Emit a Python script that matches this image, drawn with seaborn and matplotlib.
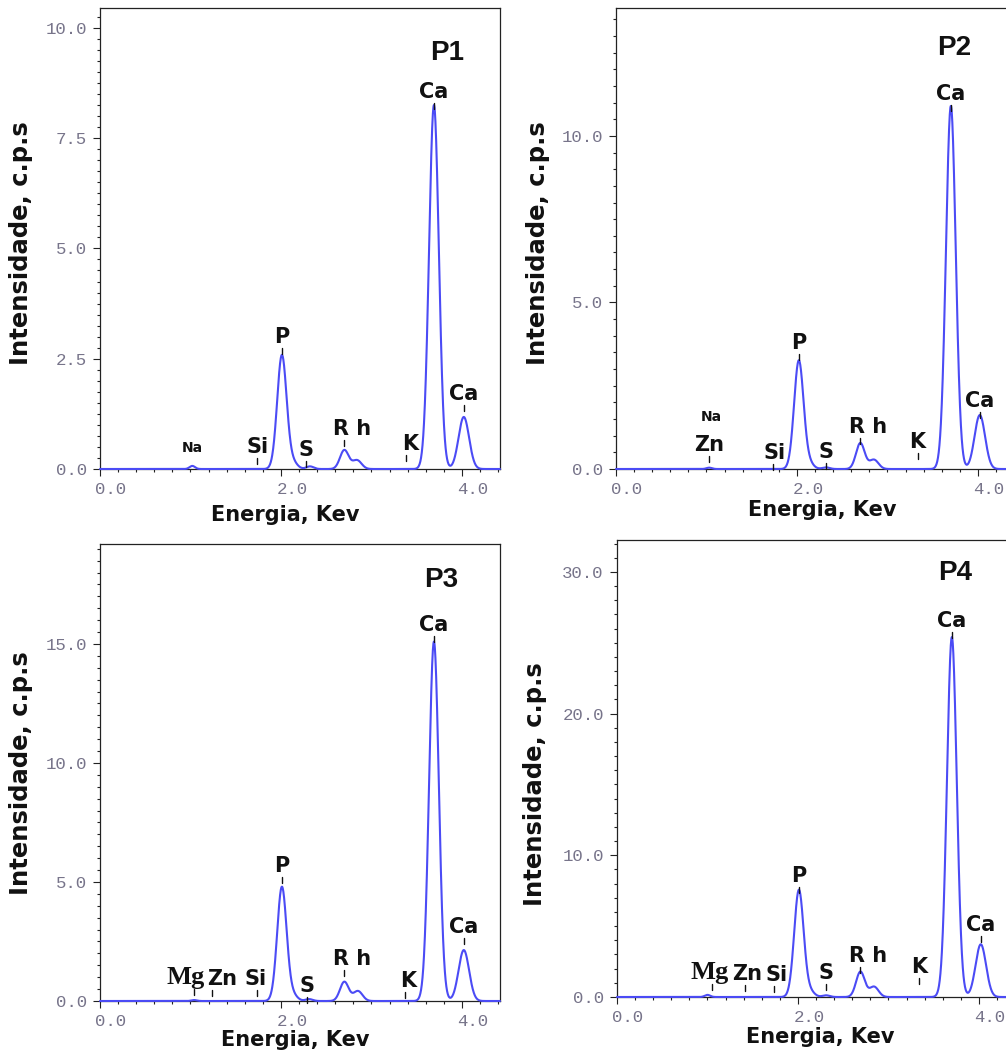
import numpy as np
import pandas as pd
import matplotlib
matplotlib.use("Agg")
import matplotlib.pyplot as plt
import matplotlib.transforms as mtransforms
from matplotlib.lines import Line2D
from matplotlib.ticker import MultipleLocator, AutoMinorLocator, FormatStrFormatter
import seaborn as sns

# ---------------- data ----------------
# peaks: energy (keV), height (c.p.s), sigma (keV)
p1_peak_e = [1.02, 2.01, 2.13, 2.32, 2.70, 2.84, 3.69, 4.02]
p1_peak_h = [0.07, 2.58, 0.15, 0.06, 0.43, 0.20, 8.25, 1.18]
p1_peak_w = [0.030, 0.052, 0.050, 0.040, 0.048, 0.050, 0.054, 0.058]

p2_peak_e = [1.03, 2.02, 2.13, 2.32, 2.70, 2.85, 3.70, 4.02]
p2_peak_h = [0.04, 3.25, 0.18, 0.05, 0.78, 0.28, 10.9, 1.62]
p2_peak_w = [0.030, 0.052, 0.050, 0.040, 0.048, 0.050, 0.054, 0.058]

p3_peak_e = [1.04, 2.01, 2.13, 2.31, 2.70, 2.85, 3.69, 4.02]
p3_peak_h = [0.04, 4.79, 0.25, 0.08, 0.81, 0.42, 15.1, 2.14]
p3_peak_w = [0.030, 0.052, 0.050, 0.040, 0.048, 0.050, 0.054, 0.058]

p4_peak_e = [1.00, 2.01, 2.13, 2.31, 2.69, 2.84, 3.70, 4.02]
p4_peak_h = [0.15, 7.55, 0.40, 0.12, 1.79, 0.73, 25.4, 3.72]
p4_peak_w = [0.030, 0.052, 0.050, 0.040, 0.048, 0.050, 0.054, 0.058]

# element labels and the energy they point at
p1_lab = ["Na", "Si", "P", "S", "R h", "K", "Ca", "Ca"]
p1_lab_e = [1.02, 1.73, 2.01, 2.28, 2.70, 3.38, 3.69, 4.02]
p2_lab = ["Na", "Zn", "Si", "P", "S", "R h", "K", "Ca", "Ca"]
p2_lab_e = [1.03, 1.03, 1.74, 2.02, 2.32, 2.70, 3.34, 3.70, 4.02]
p3_lab = ["Mg", "Zn", "Si", "P", "S", "R h", "K", "Ca", "Ca"]
p3_lab_e = [1.04, 1.24, 1.74, 2.01, 2.29, 2.70, 3.37, 3.69, 4.02]
p4_lab = ["Mg", "Zn", "Si", "P", "S", "R h", "K", "Ca", "Ca"]
p4_lab_e = [1.05, 1.41, 1.73, 2.01, 2.31, 2.69, 3.34, 3.70, 4.02]

titles = ["P1", "P2", "P3", "P4"]
y_major = [2.5, 5.0, 5.0, 10.0]
y_max = [10.45, 13.84, 19.2, 32.25]
x_max = 4.42

# ---------------- layout (pixels of the 1006x1057 canvas) ----------------
W, H = 1006, 1057
# left, top, bottom of each frame; frames are 400 px wide
frames = [(100, 8, 469), (616, 8, 469), (100, 544, 1001), (617, 540, 997)]
title_pos = [(0.8675, 0.887), (0.846, 0.898), (0.854, 0.906), (0.846, 0.9125)]
xlab_pos = [(0.4625, -0.078), (0.515, -0.067), (0.4875, -0.0635), (0.5075, -0.0656)]
ylab_pos = [(-0.1675, 0.489), (-0.165, 0.489), (-0.1675, 0.498), (-0.175, 0.466)]
# label lift above the curve (px) and horizontal shift (px)
p1_lift = [14, 16, 12, 11, 15, 19, 7, 17]
p1_dx = [0, 1, 0, 0, 8, 4, 0, 0]
p2_lift = [47, 17, 10, 11, 9, 10, 21, 6, 8]
p2_dx = [2, 0, 1, 0, 0, 8, -1, 0, 0]
p3_lift = [16, 16, 16, 15, 7, 17, 14, 11, 17]
p3_dx = [-8, 10, -2, 0, 0, 8, 3, 0, 0]
p4_lift = [17, 17, 16, 8, 16, 10, 24, 10, 13]
p4_dx = [-2, 3, 3, 0, 0, 8, 0, 0, 0]

blue = "#4b4bf5"
ink = "#111111"
tick_grey = "#77748a"

sns.set_style("ticks")
plt.rcParams["font.family"] = ["DejaVu Sans"]

fig = plt.figure(figsize=(W / 100, H / 100), dpi=100)

peaks = [(p1_peak_e, p1_peak_h, p1_peak_w), (p2_peak_e, p2_peak_h, p2_peak_w),
         (p3_peak_e, p3_peak_h, p3_peak_w), (p4_peak_e, p4_peak_h, p4_peak_w)]
labels = [(p1_lab, p1_lab_e, p1_lift, p1_dx), (p2_lab, p2_lab_e, p2_lift, p2_dx),
          (p3_lab, p3_lab_e, p3_lift, p3_dx), (p4_lab, p4_lab_e, p4_lift, p4_dx)]

energy = np.linspace(0, x_max, 2200)

for i in range(4):
    left, top, bottom = frames[i]
    ax = fig.add_axes([left / W, (H - bottom) / H, 400 / W, (bottom - top) / H])

    # spectrum as sum of gaussian line shapes
    pe, ph, pw = peaks[i]
    cps = np.zeros_like(energy)
    for e0, h0, s0 in zip(pe, ph, pw):
        cps += h0 * np.exp(-0.5 * ((energy - e0) / s0) ** 2)
    df = pd.DataFrame({"Energia": energy, "cps": cps})
    sns.lineplot(data=df, x="Energia", y="cps", ax=ax, color=blue, linewidth=1.5,
                 estimator=None, sort=False, zorder=3, clip_on=False)

    ax.set_xlim(0, x_max)
    ax.set_ylim(0, y_max[i])
    ax.xaxis.set_major_locator(MultipleLocator(2.0))
    ax.xaxis.set_minor_locator(MultipleLocator(0.2))
    ax.yaxis.set_major_locator(MultipleLocator(y_major[i]))
    ax.yaxis.set_minor_locator(AutoMinorLocator(10))
    ax.xaxis.set_major_formatter(FormatStrFormatter("%.1f"))
    ax.yaxis.set_major_formatter(FormatStrFormatter("%.1f"))
    ax.tick_params(which="major", direction="out", length=5, width=0.8, color="#222222",
                   labelsize=12.5, labelcolor=tick_grey, pad=4.5)
    ax.tick_params(which="minor", direction="out", length=2.2, width=0.8, color="#222222")
    for lab in ax.get_xticklabels() + ax.get_yticklabels():
        lab.set_fontfamily("Liberation Mono")
    shift = mtransforms.ScaledTranslation(11 / 100, 0, fig.dpi_scale_trans)
    for lab in ax.get_xticklabels():
        lab.set_transform(lab.get_transform() + shift)
    for sp in ax.spines.values():
        sp.set_visible(True)
        sp.set_color("#222222")
        sp.set_linewidth(0.9)

    ax.set_xlabel("Energia, Kev", fontsize=15, fontweight="bold", color=ink)
    ax.xaxis.set_label_coords(*xlab_pos[i])
    ax.set_ylabel("Intensidade, c.p.s", fontsize=17.5, fontweight="bold", color=ink)
    ax.yaxis.set_label_coords(*ylab_pos[i])

    ax.text(title_pos[i][0], title_pos[i][1], titles[i], transform=ax.transAxes,
            ha="center", va="baseline", fontsize=20, fontweight="bold",
            family="Liberation Sans", color=ink)

    # element labels with their small marker ticks
    names, lab_e, lifts, dxs = labels[i]
    for name, e, lift, dx in zip(names, lab_e, lifts, dxs):
        yv = np.interp(e, energy, cps)
        if name == "Mg":
            fam, size = "Liberation Serif", 19
        elif name == "Na":
            fam, size = "DejaVu Sans", 10
        else:
            fam, size = "DejaVu Sans", 15
        ax.annotate(name, xy=(e, yv), xytext=(dx, lift), textcoords="offset pixels",
                    ha="center", va="baseline", fontsize=size, fontweight="bold",
                    family=fam, color=ink, zorder=4)
        if name != "Na":
            xp, yp = ax.transData.transform((e, yv))
            tick = Line2D([xp, xp], [yp + lift - 11, yp + lift - 5], color=ink, lw=1.0,
                          transform=mtransforms.IdentityTransform(), zorder=4)
            fig.add_artist(tick)

fig.savefig("out.png", dpi=100)
